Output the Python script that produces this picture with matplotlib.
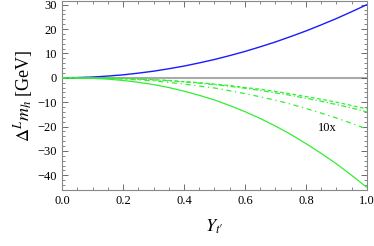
import matplotlib
matplotlib.use("Agg")
import matplotlib.pyplot as plt
from matplotlib.ticker import MultipleLocator, FormatStrFormatter

x = [0.0, 0.05, 0.1, 0.15, 0.2, 0.25, 0.3, 0.35, 0.4, 0.45, 0.5,
     0.55, 0.6, 0.65, 0.7, 0.75, 0.8, 0.85, 0.9, 0.95, 1.0]
blue = [0.0, 0.08, 0.3, 0.7, 1.2, 1.9, 2.7, 3.7, 4.8, 6.1, 7.5,
        9.1, 10.8, 12.7, 14.7, 16.9, 19.2, 21.7, 24.3, 27.1, 30.0]
green_solid = [0.0, -0.05, -0.2, -0.55, -1.1, -1.85, -2.8, -4.0, -5.5, -7.2, -9.1,
               -11.4, -13.9, -16.7, -19.8, -23.2, -27.0, -31.0, -35.3, -40.0, -45.0]
green_dashdot = [0.0, -0.02, -0.1, -0.27, -0.5, -0.86, -1.3, -1.9, -2.6, -3.4, -4.2,
                 -5.3, -6.5, -7.8, -9.2, -10.8, -12.6, -14.5, -16.5, -18.7, -21.0]
green_dashed = [0.0, -0.01, -0.07, -0.16, -0.31, -0.53, -0.8, -1.1, -1.6, -2.0, -2.6,
                -3.2, -4.0, -4.7, -5.6, -6.6, -7.7, -8.8, -10.0, -11.4, -12.8]
green_dotdash = [0.0, -0.02, -0.07, -0.18, -0.34, -0.58, -0.87, -1.2, -1.7, -2.2, -2.8,
                 -3.5, -4.3, -5.2, -6.2, -7.2, -8.4, -9.6, -11.0, -12.4, -14.0]

plt.rcParams['font.family'] = ['Liberation Serif', 'DejaVu Serif']
plt.rcParams['mathtext.fontset'] = 'stix'

fig = plt.figure(figsize=(3.74, 2.46), dpi=100)
ax = fig.add_axes([0.166, 0.228, 0.815, 0.768])

gc = '#33ee33'
ax.axhline(0, color='#aaaaaa', lw=1.5, zorder=1)
ax.plot(x, blue, color='#1a1aff', lw=1.0, zorder=3)
ax.plot(x, green_solid, color=gc, lw=0.9, zorder=3)
ax.plot(x, green_dashdot, color=gc, lw=0.9, dashes=(4, 3, 1, 3), zorder=3)
ax.plot(x, green_dashed, color=gc, lw=0.9, dashes=(3, 2), zorder=3)
ax.plot(x, green_dotdash, color=gc, lw=0.9, dashes=(4, 2, 1, 2), zorder=3)

ax.text(0.87, -20.5, '10x', fontsize=9, ha='center', va='center')

ax.set_xlim(0, 1.0)
ax.set_ylim(-46, 31.5)
ax.xaxis.set_major_locator(MultipleLocator(0.2))
ax.xaxis.set_minor_locator(MultipleLocator(0.05))
ax.yaxis.set_major_locator(MultipleLocator(10))
ax.yaxis.set_minor_locator(MultipleLocator(2))
ax.tick_params(which='both', direction='in', top=True, right=True, colors='#555555',
               labelcolor='black', labelsize=9)
ax.tick_params(which='major', length=4, width=0.6)
ax.tick_params(which='minor', length=2, width=0.5)
ax.xaxis.set_major_formatter(FormatStrFormatter('%.1f'))
for s in ax.spines.values():
    s.set_color('#888888')
    s.set_linewidth(0.8)

ax.set_xlabel(r"$Y_{t\prime}$", fontsize=13, labelpad=8)
ax.set_ylabel(r"$\Delta^L m_h$ [GeV]", fontsize=13, labelpad=2)

fig.savefig('out.png', dpi=100)
